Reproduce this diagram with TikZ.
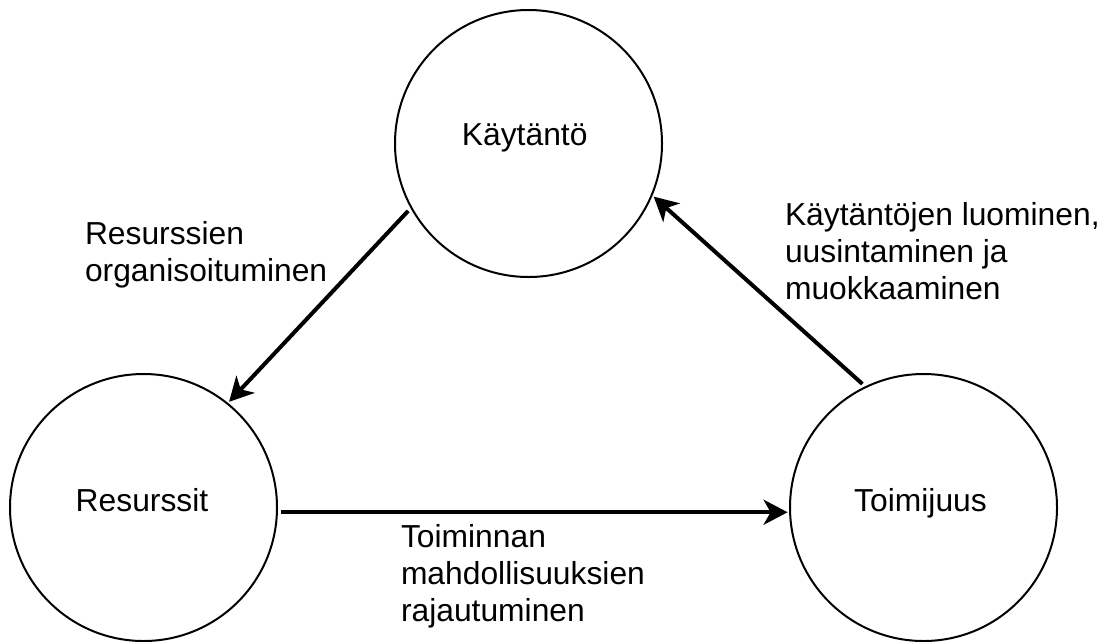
\documentclass[tikz,border=0pt]{standalone}
\usepackage{fontspec}
\setmainfont{Liberation Sans}
\usetikzlibrary{arrows.meta}
\begin{document}
\begin{tikzpicture}[x=1pt,y=-1pt,
  state/.style={circle, draw, line width=2pt, minimum size=267pt, inner sep=0pt, outer sep=2.5pt},
  txt/.style={font=\fontsize{31.8}{37}\selectfont, inner sep=0pt, outer sep=0pt},
  edgelbl/.style={txt, align=left, anchor=base west},
  flow/.style={line width=4pt, -{Stealth[length=24pt,width=25pt,inset=7pt]}, shorten <=2pt}]
\useasboundingbox (0,0) rectangle (1105,641);
\node[state] (K) at (528.5,143.5) {};
\node[state] (R) at (143.5,507.5) {};
\node[state] (T) at (923.5,507.5) {};
\node[txt, anchor=base] (Kt) at (524.7,145.7) {Käytäntö};
\node[txt, anchor=base] (Rt) at (142,511.7) {Resurssit};
\node[txt, anchor=base] (Tt) at (920.5,511.7) {Toimijuus};
\draw[flow] (K.209) -- (R.51);
\draw[flow] (R.-2) -- (T.182);
\draw[flow] (T.116) -- (K.-23);
\node[edgelbl] (L1) at (85,281.7) {Resurssien\\organisoituminen};
\node[edgelbl] (L2) at (401,621.5) {Toiminnan\\mahdollisuuksien\\rajautuminen};
\node[edgelbl] (L3) at (785,299) {Käytäntöjen luominen,\\uusintaminen ja\\muokkaaminen};
\end{tikzpicture}
\end{document}
